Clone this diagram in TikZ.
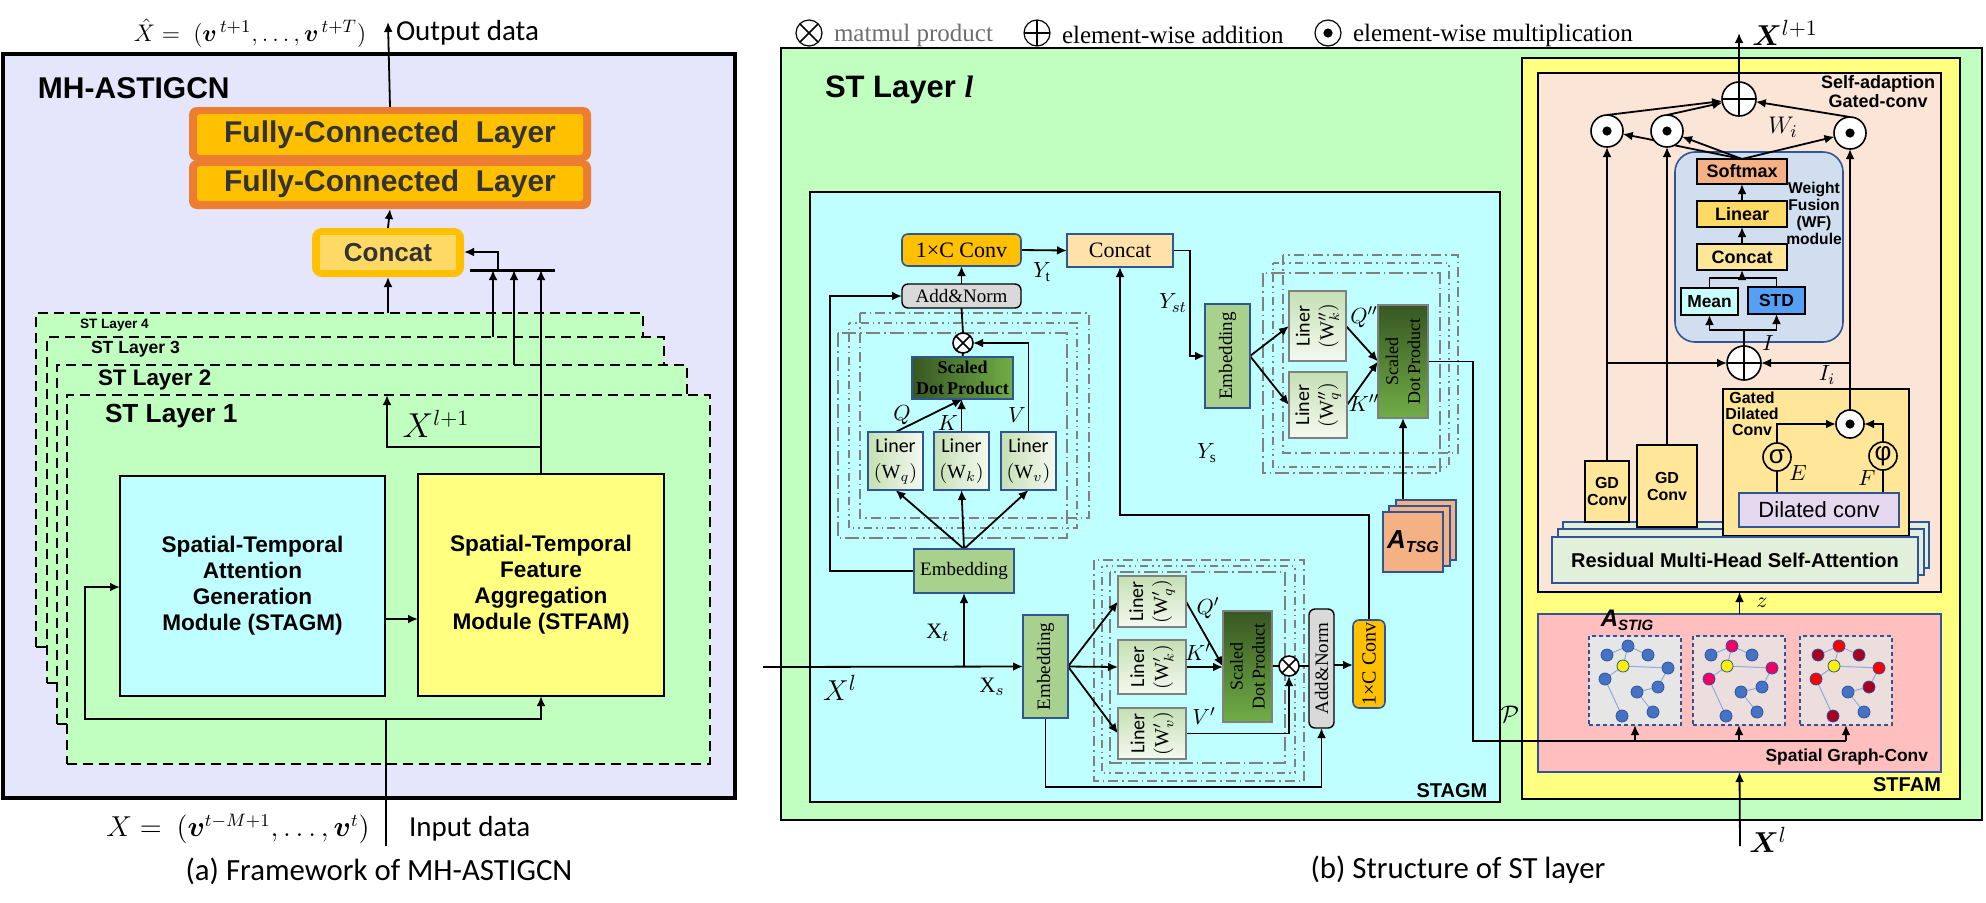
\documentclass[tikz,border=0pt]{standalone}
\usepackage{fontspec}
\setmainfont{Liberation Serif}
\setsansfont{Liberation Sans}
\newfontfamily\capfnt{Carlito}
\usepackage{bm}
\usetikzlibrary{arrows.meta,calc}
\pgfdeclarelayer{back}
\pgfdeclarelayer{lines}
\pgfsetlayers{back,lines,main}
\definecolor{lav}{RGB}{229,229,251}
\definecolor{stg}{RGB}{192,255,192}
\definecolor{cyc}{RGB}{191,255,255}
\definecolor{yel}{RGB}{255,255,128}
\definecolor{fcor}{RGB}{237,125,49}
\definecolor{gold}{RGB}{255,192,0}
\definecolor{ltgold}{RGB}{255,217,102}
\definecolor{cream}{RGB}{255,230,153}
\definecolor{peach}{RGB}{251,229,214}
\definecolor{pinkb}{RGB}{255,191,191}
\definecolor{bord}{RGB}{47,85,151}
\definecolor{embg}{RGB}{169,209,142}
\definecolor{sdpd}{RGB}{56,87,35}
\definecolor{sdpl}{RGB}{112,173,71}
\definecolor{ling}{RGB}{197,224,180}
\definecolor{linw}{RGB}{244,249,240}
\definecolor{addg}{RGB}{217,217,217}
\definecolor{cconc}{RGB}{255,226,170}
\definecolor{salmon}{RGB}{244,177,131}
\definecolor{wfb}{RGB}{208,222,239}
\definecolor{meanc}{RGB}{200,255,255}
\definecolor{stdc}{RGB}{85,160,245}
\definecolor{dilc}{RGB}{228,215,238}
\definecolor{resc}{RGB}{226,239,218}
\definecolor{frg}{RGB}{128,128,128}
\definecolor{nblue}{RGB}{68,114,196}
\definecolor{npink}{RGB}{240,0,100}
\definecolor{nred}{RGB}{255,0,0}
\definecolor{ndred}{RGB}{165,0,33}
\definecolor{edgec}{RGB}{143,170,220}
\definecolor{pan1}{RGB}{231,230,230}
\definecolor{pan2}{RGB}{237,222,222}
\definecolor{txg}{RGB}{51,51,51}
\definecolor{leggray}{RGB}{110,110,110}
\newcommand\fsz[2]{\fontsize{#1}{#2}\selectfont}
\newcommand\bx[7]{\node[#6,minimum width={(#4-#2)*0.5pt},minimum height={(#5-#3)*0.5pt}] (#1) at ({(#2+#4)/2},{(#3+#5)/2}) {#7};}
\newcommand\gpanel[6]{%
  \bx{#1}{#2}{636}{#2+92}{725}{draw=bord,line width=0.6pt,dash pattern=on 2pt off 1.5pt,fill=#3}{}
  \begin{scope}[shift={(#2,636)}]
    \draw[edgec,line width=0.5pt] (39,10)--(18,19) (39,10)--(34,30) (39,10)--(59,19) (34,30)--(79,32) (34,30)--(16,43) (16,43)--(33,80) (48,56)--(69,51) (48,56)--(64,76) (69,51)--(79,32);
    \foreach \a/\b/\c in {39/10/#4,18/19/#5,59/19/#5,34/30/yellow,79/32/#4,16/43/#4,69/51/#5,48/56/#6,33/80/#5,64/76/#6}
      \filldraw[fill=\c,draw=bord,line width=0.4pt] (\a,\b) circle (3pt);
  \end{scope}}
\begin{document}
\begin{tikzpicture}[x=0.5pt,y=-0.5pt,
  every node/.style={inner sep=0pt,outer sep=0pt},
  ln/.style={line width=0.9pt},
  arr/.style={line width=0.9pt,-{Latex[length=5pt,width=4.4pt]}},
  box/.style={draw,line width=0.7pt},
  bb/.style={draw=bord,line width=0.8pt},
  stl/.style={draw,line width=0.8pt,fill=stg,dash pattern=on 5pt off 3pt},
  frA/.style={draw=frg,line width=0.7pt,dash pattern=on 5pt off 2pt on 0.8pt off 2pt},
  frB/.style={draw=frg,line width=0.7pt,dash pattern=on 0.8pt off 2pt on 0.8pt off 2pt on 4pt off 2pt},
  frC/.style={draw=frg,line width=0.7pt,dash pattern=on 7pt off 2pt on 0.8pt off 2pt},
  otim/.style={circle,draw,fill=white,line width=0.8pt,minimum size=#1,
     path picture={\draw[black,line width=0.8pt] (path picture bounding box.south west)--(path picture bounding box.north east) (path picture bounding box.north west)--(path picture bounding box.south east);}},
  otim/.default=10pt,
  oplu/.style={circle,draw,fill=white,line width=0.8pt,minimum size=#1,
     path picture={\draw[black,line width=0.8pt] (path picture bounding box.north)--(path picture bounding box.south) (path picture bounding box.west)--(path picture bounding box.east);}},
  oplu/.default=17pt,
  odt/.style={circle,draw,fill=white,line width=0.8pt,minimum size=#1,
     path picture={\fill[black] (path picture bounding box.center) circle (2.3pt);}},
  odt/.default=16pt,
  sdp/.style={draw=bord,line width=0.8pt,left color=sdpd,right color=sdpl},
  sdpv/.style={draw=frg,line width=0.8pt,top color=sdpd,bottom color=sdpl},
  lin/.style={draw=bord,line width=0.8pt,left color=ling,right color=linw},
  linv/.style={draw=frg,line width=0.8pt,top color=ling,bottom color=linw},
  bsf/.style={font=\sffamily\bfseries\fsz{#1}{#1}},
  mth/.style={font=\fsz{#1}{#1}},
  mth/.default=11
]
\useasboundingbox (0,0) rectangle (1986,902);

% ================= LEFT PANEL =================
\begin{pgfonlayer}{back}
\draw[line width=2pt,fill=lav] (3,54) rectangle (735,798);
\bx{L4}{36}{313}{643}{647}{stl}{}
\bx{L3}{47}{337}{664}{683}{stl}{}
\bx{L2}{57}{365}{687}{724}{stl}{}
\bx{L1}{67}{395}{710}{764}{stl}{}
\end{pgfonlayer}

\node[anchor=west,bsf=6.8] (tl4) at (80,325) {ST Layer 4};
\node[anchor=west,bsf=8.8] (tl3) at (91,349) {ST Layer 3};
\node[anchor=west,bsf=11.2] (tl2) at (98,380) {ST Layer 2};
\node[anchor=west,bsf=13.1] (tl1) at (105,416) {ST Layer 1};
\node[anchor=west,bsf=15] (mh) at (38,88) {MH-ASTIGCN};

\bx{fc1o}{189}{107}{591}{161}{fill=fcor,rounded corners=4pt}{}
\bx{fc1}{197}{114}{583}{155}{fill=gold,rounded corners=1.5pt,bsf=15,text=txg}{Fully-Connected\ \ Layer}
\bx{fc2o}{189}{160}{591}{209}{fill=fcor,rounded corners=4pt}{}
\bx{fc2}{197}{166}{583}{201}{fill=gold,rounded corners=1.5pt,bsf=15,text=txg}{Fully-Connected\ \ Layer}
\bx{cco}{312}{228}{464}{277}{fill=gold,rounded corners=5pt}{}
\bx{ccL}{320}{235}{456}{270}{fill=ltgold,bsf=13,text=txg}{Concat}

\bx{stagmL}{120}{476}{385}{696}{box,fill=cyc,line width=1pt,align=center,font=\sffamily\bfseries\fsz{11.3}{13}}{Spatial-Temporal\\Attention\\Generation\\Module (STAGM)}
\bx{stfamL}{418}{474}{664}{696}{box,fill=yel,line width=1pt,align=center,font=\sffamily\bfseries\fsz{11.3}{13}}{Spatial-Temporal\\Feature\\Aggregation\\Module (STFAM)}

\begin{pgfonlayer}{lines}
\coordinate (inS) at (386,846);
\draw[ln] (inS) -- (386,719);
\draw[arr] (386,719) -- (85,719) -- (85,587) -- (stagmL.west |- 0,587);
\draw[arr] (386,719) -| (stfamL.south);
\draw[arr] (stagmL.east |- 0,619) -- (stfamL.west |- 0,619);
\draw[arr] (stfamL.north) -- (541,270);
\draw[arr] (541,447) -- (387,447) -- (387,0 |- L1.north);
\draw[arr] (514,0 |- L2.north) -- (514,270);
\draw[arr] (493,0 |- L3.north) -- (493,270);
\draw[line width=1.5pt] (470,270) -- (555,270);
\draw[arr] (498,270) -- (498,252) -- (cco.east |- 0,252);
\draw[arr] (cco.south |- L4.north) -- (cco.south);
\draw[arr] (cco.north) -- (fc2o.south);
\coordinate (outT) at (388,22);
\draw[arr] (fc1o.north) -- (outT);
\end{pgfonlayer}

\node (ttl) at (250,33) {\fsz{13}{13}$\hat{X} =\ (\bm{v}^{\,t+1},\dots,\bm{v}^{\,t+T})$};
\node[anchor=west,font=\capfnt\fsz{14.5}{15}] (outd) at (396,33) {Output data};
\node (inx) at (238,829) {\fsz{13.5}{13.5}$X =\ (\bm{v}^{t-M+1},\dots,\bm{v}^{t})$};
\node[anchor=west,font=\capfnt\fsz{14.5}{15}] (ind) at (409,829) {Input data};
\node[font=\capfnt\fsz{15.4}{16}] (capa) at (379,871) {(a) Framework of MH-ASTIGCN};
\node (xl1) at (436,424) {\fsz{16}{16}$X^{l+1}$};

% ================= RIGHT PANEL =================
\begin{pgfonlayer}{back}
\draw[line width=1pt,fill=stg] (781,48) rectangle (1982,820);
\bx{stagm}{810}{192}{1500}{802}{box,fill=cyc,line width=1pt}{}
\bx{stfam}{1522}{58}{1960}{799}{box,fill=yel,line width=1.2pt}{}
\bx{sagc}{1538}{73}{1941}{592}{box,fill=peach,line width=1.2pt}{}
\bx{sgc}{1538}{614}{1941}{772}{bb,fill=pinkb,line width=1pt}{}
\draw[frA] (860,313) rectangle (1089,518);
\draw[frB] (849,323) rectangle (1077,528);
\draw[frC] (838,333) rectangle (1067,538);
\draw[frA] (1094,560) rectangle (1304,781);
\draw[frB] (1102,566) rectangle (1295,773);
\draw[frC] (1110,572) rectangle (1285,763);
\draw[frA] (1283,255) rectangle (1458,453);
\draw[frB] (1273,263) rectangle (1449,467);
\draw[frC] (1263,273) rectangle (1440,473);
\bx{wf}{1675}{152}{1843}{342}{draw=bord,line width=0.8pt,fill=wfb,rounded corners=10pt}{}
\bx{res3}{1563}{522}{1929}{568}{bb,fill=resc}{}
\bx{res2}{1558}{529}{1924}{575}{bb,fill=resc}{}
\bx{gd1}{1585}{461}{1629}{522}{box,fill=cream,align=center,font=\sffamily\bfseries\fsz{8}{8.5}}{GD\\Conv}
\bx{gd2}{1637}{445}{1697}{527}{box,fill=cream,align=center,font=\sffamily\bfseries\fsz{8}{8.5}}{GD\\Conv}
\bx{gdc}{1723}{389}{1909}{536}{box,fill=cream}{}
\bx{res}{1552}{537}{1918}{583}{bb,fill=resc,bsf=10}{Residual Multi-Head Self-Attention}
\gpanel{gp1}{1589}{pan1}{nblue}{nblue}{nblue}
\gpanel{gp2}{1693}{pan2}{npink}{nblue}{nblue}
\gpanel{gp3}{1800}{pan2}{nred}{ndred}{nblue}
\end{pgfonlayer}

% legend
\node[otim=13pt,line width=0.6pt] (lg1) at (809,33) {};
\node[anchor=west,text=leggray,font=\fsz{12.5}{13}] (lg1t) at (834,35) {matmul product};
\node[oplu=13pt,line width=0.6pt] (lg2) at (1037,33) {};
\node[anchor=west,font=\fsz{12.5}{13}] (lg2t) at (1062,35) {element-wise addition};
\node[odt=13pt,line width=0.6pt] (lg3) at (1328,33) {};
\node[anchor=west,font=\fsz{12.5}{13}] (lg3t) at (1353,35) {element-wise multiplication};

\node[anchor=west,bsf=15.5] (stll) at (825,90) {ST Layer \textit{\rmfamily l}};

% STAGM internals
\bx{conv1}{902}{234}{1021}{266}{bb,fill=gold,rounded corners=3pt,font=\fsz{11}{12}}{1×C Conv}
\bx{catT}{1067}{234}{1173}{267}{bb,fill=cconc,font=\fsz{11}{12}}{Concat}
\bx{an1}{902}{284}{1021}{308}{box,fill=addg,rounded corners=3pt,font=\fsz{9.5}{10}}{Add\&Norm}
\node[otim] (ot1) at (963,343) {};
\bx{sdp1}{912}{357}{1013}{399}{sdp,align=center,font=\bfseries\fsz{9}{10.5}}{Scaled\\Dot\,Product}
\bx{lq}{868}{432}{923}{490}{lin,align=center,font=\fsz{10}{13}}{{\capfnt Liner}\\$(\mathrm{W}_q)$}
\bx{lk}{934}{432}{989}{490}{lin,align=center,font=\fsz{10}{13}}{{\capfnt Liner}\\$(\mathrm{W}_k)$}
\bx{lv}{1001}{432}{1056}{490}{lin,align=center,font=\fsz{10}{13}}{{\capfnt Liner}\\$(\mathrm{W}_v)$}
\bx{emb1}{914}{549}{1014}{593}{bb,fill=embg,font=\fsz{9.5}{10}}{Embedding}

\bx{emb2}{1023}{615}{1068}{718}{bb,fill=embg}{}
\node[rotate=90,font=\fsz{9.5}{10}] (emb2t) at (emb2) {Embedding};
\bx{lq2}{1118}{576}{1186}{627}{linv}{}
\node[rotate=90,align=center,font=\fsz{10}{12}] (lq2t) at (lq2) {{\capfnt Liner}\\$(\mathrm{W}'_q)$};
\bx{lk2}{1118}{640}{1186}{694}{linv}{}
\node[rotate=90,align=center,font=\fsz{10}{12}] (lk2t) at (lk2) {{\capfnt Liner}\\$(\mathrm{W}'_k)$};
\bx{lv2}{1118}{708}{1186}{759}{linv}{}
\node[rotate=90,align=center,font=\fsz{10}{12}] (lv2t) at (lv2) {{\capfnt Liner}\\$(\mathrm{W}'_v)$};
\bx{sdp2}{1223}{611}{1272}{722}{sdpv}{}
\node[rotate=90,align=center,font=\fsz{9}{11}] (sdp2t) at (sdp2) {Scaled\\Dot\,Product};
\node[otim] (ot2) at (1289,666) {};
\bx{an2}{1309}{609}{1334}{728}{box,fill=addg,rounded corners=3pt}{}
\node[rotate=90,font=\fsz{9.5}{10}] (an2t) at (an2) {Add\&Norm};
\bx{conv2}{1353}{620}{1385}{708}{bb,fill=gold,rounded corners=3pt}{}
\node[rotate=90,font=\fsz{10}{10}] (conv2t) at (conv2) {1×C Conv};

\bx{emb3}{1205}{304}{1250}{408}{bb,fill=embg}{}
\node[rotate=90,font=\fsz{9.5}{10}] (emb3t) at (emb3) {Embedding};
\bx{lk3}{1289}{291}{1346}{361}{linv}{}
\node[rotate=90,align=center,font=\fsz{10}{12}] (lk3t) at (lk3) {{\capfnt Liner}\\$(\mathrm{W}''_k)$};
\bx{lq3}{1289}{372}{1347}{438}{linv}{}
\node[rotate=90,align=center,font=\fsz{10}{12}] (lq3t) at (lq3) {{\capfnt Liner}\\$(\mathrm{W}''_q)$};
\bx{sdp3}{1378}{305}{1428}{418}{sdpv}{}
\node[rotate=90,align=center,font=\fsz{9}{11}] (sdp3t) at (sdp3) {Scaled\\Dot\,Product};
\bx{at3}{1396}{500}{1456}{560}{bb,fill=salmon}{}
\bx{at2}{1389}{506}{1450}{566}{bb,fill=salmon}{}
\bx{at1}{1383}{512}{1443}{572}{bb,fill=salmon}{{\sffamily\bfseries\itshape\fsz{13}{13}A\raisebox{-0.3ex}{\fsz{8}{8}TSG}}}

% STFAM internals
\node[oplu=17pt] (opo) at (1739,99) {};
\node[odt] (o1) at (1607,131) {};
\node[odt] (o2) at (1667,131) {};
\node[odt] (o3) at (1850,133) {};
\bx{sm}{1697}{159}{1787}{184}{box,fill=salmon,bsf=9}{Softmax}
\bx{linr}{1697}{201}{1787}{227}{box,fill=ltgold,bsf=9}{Linear}
\bx{catW}{1697}{244}{1787}{270}{box,fill=cream,bsf=9}{Concat}
\bx{mean}{1681}{288}{1738}{315}{box,fill=meanc,bsf=8.7}{Mean}
\bx{std}{1748}{287}{1805}{314}{box,fill=stdc,bsf=8.7}{STD}
\node[align=center,font=\sffamily\bfseries\fsz{7.8}{8.5}] (wft) at (1814,213) {Weight\\Fusion\\(WF)\\module};
\node[oplu=17pt] (opi) at (1744,363) {};
\node[odt=14pt] (og) at (1850,424) {};
\node[circle,draw,line width=0.8pt,minimum size=14pt,font=\sffamily\fsz{13}{13}] (sig) at (1777,457) {σ};
\node[circle,draw,line width=0.8pt,minimum size=14pt,font=\sffamily\fsz{13}{13}] (phi) at (1883,456) {φ};
\bx{dil}{1739}{493}{1899}{527}{bb,fill=dilc,font=\sffamily\fsz{11}{12}}{Dilated conv}
\node[align=center,font=\sffamily\bfseries\fsz{9}{9.5}] (sagt) at (1878,92) {Self-adaption\\Gated-conv};
\node[align=center,font=\sffamily\bfseries\fsz{8}{8}] (gdct) at (1752,414) {Gated\\Dilated\\Conv};
\node[anchor=east,bsf=8.7] (sgct) at (1928,757) {Spatial Graph-Conv};
\node[bsf=10] (stagmt) at (1452,791) {STAGM};
\node[bsf=10] (stfamt) at (1907,785) {STFAM};
\node (astig) at (1627,620) {{\sffamily\bfseries\itshape\fsz{12}{12}A\raisebox{-0.3ex}{\fsz{7.5}{7.5}STIG}}};

\begin{pgfonlayer}{lines}
\coordinate (xlS) at (763,667);
\draw[arr] (xlS) -- (emb2.west);
\draw[arr] (emb1.south |- emb2.west) -- (emb1.south);
\draw[arr] (emb1.west) -- (830,0 |- emb1.west) -- (830,0 |- an1.west) -- (an1.west);
\draw[arr] (emb1.north) -- (lq.south);
\draw[arr] (emb1.north) -- (lk.south);
\draw[arr] (emb1.north) -- (lv.south);
\draw[arr] (lq.north) -- (sdp1.south);
\draw[arr] (lk.north) -- (lk.north |- sdp1.south);
\draw[arr] (lv.north) |- (ot1.east);
\draw[ln] (sdp1.north) -- (ot1.south);
\draw[ln] (ot1.north) -- (an1.south);
\draw[arr] (an1.north) -- (conv1.south);
\draw[arr] (conv1.east) -- (catT.west);
\draw[arr] (catT.east) -- (1190,0 |- catT.east) -- (1190,0 |- emb3.west) -- (emb3.west);
\draw[arr] (emb3.east) -- (lk3.west);
\draw[arr] (emb3.east) -- (lq3.west);
\draw[arr] (lk3.east) -- (sdp3.west);
\draw[arr] (lq3.east) -- (sdp3.west);
\draw[arr] (sdp3.south |- at1.north) -- (sdp3.south);
\coordinate (pj) at (1473,741);
\draw[ln] (sdp3.east) -| (pj) -- (gp3.south |- pj);
\draw[arr] (gp1.south |- pj) -- (gp1.south);
\draw[arr] (gp2.south |- pj) -- (gp2.south);
\draw[arr] (gp3.south |- pj) -- (gp3.south);
\draw[arr] (emb2.east) -- (lq2.west);
\draw[arr] (emb2.east) -- (lk2.west);
\draw[arr] (emb2.east) -- (lv2.west);
\draw[arr] (lq2.east) -- (sdp2.west);
\draw[arr] (lk2.east) -- (sdp2.west |- lk2.east);
\draw[arr] (lv2.east) -| (ot2.south);
\draw[ln] (sdp2.east |- ot2.west) -- (ot2.west);
\draw[ln] (ot2.east) -- (an2.west |- ot2.east);
\draw[arr] (an2.east |- 0,665) -- (conv2.west |- 0,665);
\draw[arr] (emb2.south) -- (emb2.south |- 0,787) -| (an2.south);
\draw[arr] (conv2.north) |- (catT.south |- 0,515) -- (catT.south);
% STFAM
\coordinate (xo) at (1739,33);
\draw[arr] (opo.north) -- (xo);
\draw[arr] (o1.north) -- (opo);
\draw[arr] (o2.north) -- (opo);
\draw[arr] (o3.north) -- (opo);
\draw[arr] (sm.north) -- (o2);
\draw[arr] (sm.north) -- (o3);
\draw[arr] (sm.north) -- (1678,146) -- (1648,139) -- (o1);
\draw[arr] (catW.north) -- (linr.south);
\draw[arr] (linr.north) -- (sm.south);
\coordinate (mj) at (1742,278);
\draw[ln] (mean.north) |- (mj);
\draw[ln] (std.north) |- (mj);
\draw[arr] (mj) -- (catW.south);
\draw[ln] (opi.north) -- (1744,330);
\draw[arr] (1744,330) -| (mean.south);
\draw[arr] (1744,330) -| (std.south);
\draw[arr] (gd1.north) -- (o1.south);
\draw[arr] (1607,363) -- (opi.west);
\draw[arr] (gd2.north) -- (o2.south);
\draw[arr] (og.north) -- (o3.south);
\draw[arr] (1850,363) -- (opi.east);
\draw[arr] (sig.north) |- (og.west);
\draw[arr] (phi.north) |- (og.east);
\draw[ln] (sig.south) -- (sig.south |- dil.north);
\draw[ln] (phi.south) -- (phi.south |- dil.north);
\draw[arr] (sgc.north) -- (sagc.south);
\coordinate (xin) at (1740,846);
\draw[arr] (xin) -- (sgc.south);
\end{pgfonlayer}

% math labels
\node[mth] (lyt) at (1042,272) {$Y_{\mathrm{t}}$};
\node[mth] (lyst) at (1173,303) {$Y_{st}$};
\node[mth] (lys) at (1207,453) {$Y_{\mathrm{s}}$};
\node[mth] (lq_) at (902,415) {$Q$};
\node[mth] (lk_) at (948,423) {$K$};
\node[mth] (lv_) at (1017,415) {$V$};
\node[mth] (lq2_) at (1208,608) {$Q'$};
\node[mth] (lk2_) at (1198,652) {$K'$};
\node[mth] (lv2_) at (1204,716) {$V'$};
\node[mth] (lq3_) at (1364,317) {$Q''$};
\node[mth] (lk3_) at (1364,403) {$K''$};
\node[mth] (lxt) at (938,633) {$\mathrm{X}_t$};
\node[mth] (lxs) at (992,687) {$\mathrm{X}_s$};
\node[mth=15] (lxl) at (840,688) {$X^{l}$};
\node[mth=13] (lwi) at (1783,127) {$W_i$};
\node[mth] (li) at (1768,343) {$I$};
\node[mth] (lii) at (1827,375) {$I_i$};
\node[mth] (le) at (1798,473) {$E$};
\node[mth] (lf) at (1867,478) {$F$};
\node[mth] (lz) at (1762,603) {$z$};
\node[mth=13] (lp) at (1510,714) {$\mathcal{P}$};
\node[mth=15] (lxo) at (1785,33) {$\bm{X}^{l+1}$};
\node[mth=15] (lxi) at (1768,840) {$\bm{X}^{l}$};
\node[font=\capfnt\fsz{15.4}{16}] (capb) at (1458,870) {(b) Structure of ST layer};
\end{tikzpicture}
\end{document}
